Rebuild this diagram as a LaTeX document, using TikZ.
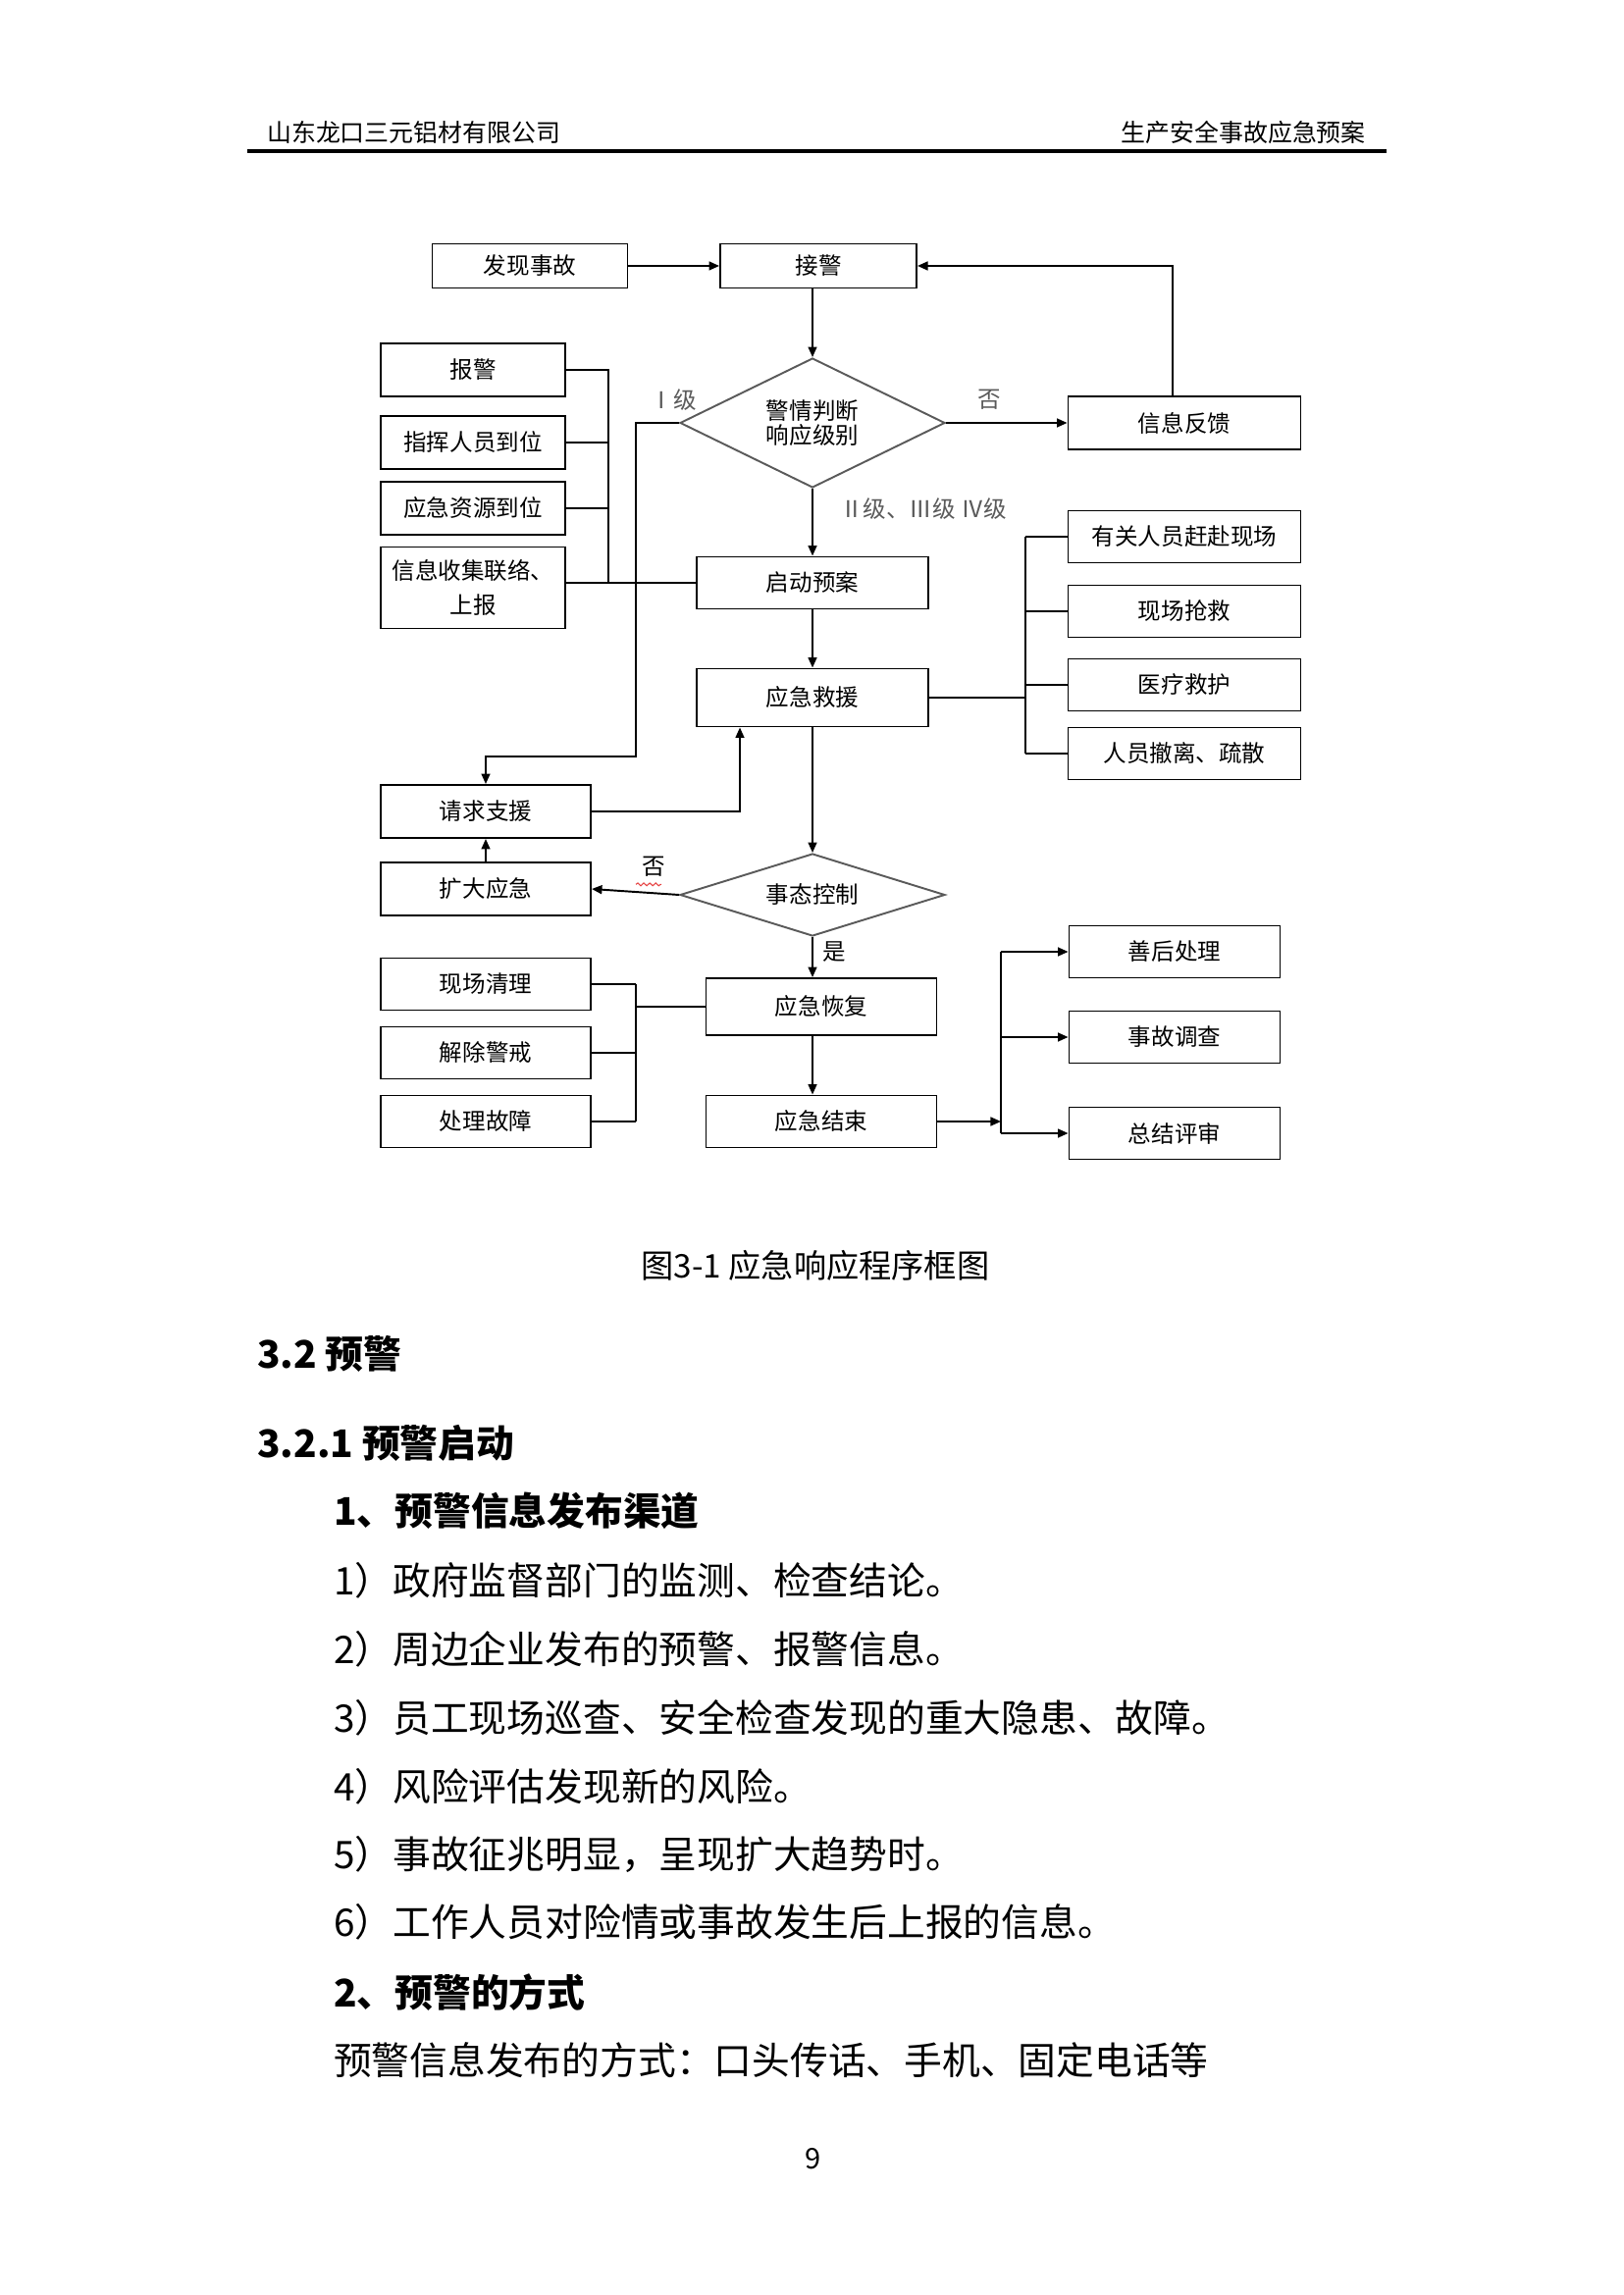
\documentclass[tikz,border=0pt]{standalone}
\usepackage{fontspec}
\setmainfont{Noto Sans CJK SC}
\usetikzlibrary{arrows.meta}
\usetikzlibrary{shapes.geometric}
\usetikzlibrary{decorations.pathmorphing}
\newlength\upx
\setlength\upx{0.12696mm}
\definecolor{gray1}{RGB}{90, 90, 90}
\definecolor{red1}{RGB}{230, 70, 70}

\begin{document}
\begin{tikzpicture}[x=\upx, y=-\upx, line width=0.7pt, >={Triangle[length=3.8pt,width=3.2pt]},
  box/.style 2 args={draw, minimum width=#1*\upx, minimum height=#2*\upx, inner sep=1pt,
    align=center, font=\fontsize{8.5pt}{12.5pt}\selectfont},
  cond/.style 2 args={diamond, draw=gray1, minimum width=#1*\upx, minimum height=#2*\upx,
    inner sep=0pt, align=center, font=\fontsize{8.5pt}{9pt}\selectfont},
  lbl/.style={text=gray1, font=\fontsize{8.5pt}{10pt}\selectfont},
  body/.style={anchor=west, font=\fontsize{14pt}{16pt}\selectfont}]
 \useasboundingbox (0,0) rectangle (1654,2339);
 % page header
  \node[anchor=west, font=\fontsize{9pt}{11pt}\selectfont] (hl) at (262,135) {山东龙口三元铝材有限公司};
  \node[anchor=east, font=\fontsize{9pt}{11pt}\selectfont] (hr) at (1402,135) {生产安全事故应急预案};
  \draw[line width=1.2pt] (252,154) -- (1413,154);

 % main column
  \node[box={199}{45}] (find) at (540,271) {发现事故};
  \node[box={200}{45}] (recv) at (834,271) {接警};
  \node[cond={270}{132}, aspect=2] (judge) at (828,431) {警情判断\\响应级别};
  \node[box={237}{54}] (feed) at (1207,431) {信息反馈};
  \node[box={236}{53}] (start) at (828,594) {启动预案};
  \node[box={236}{59}] (rescue) at (828,711) {应急救援};
  \node[cond={270}{84}, aspect=3.2] (ctrl) at (828,912) {事态控制};
  \node[box={235}{58}] (recover) at (837,1026) {应急恢复};
  \node[box={235}{53}] (finish) at (837,1143) {应急结束};

 % side boxes
  \node[box={188}{54}] (alarm) at (482,377) {报警};
  \node[box={188}{54}] (cmd) at (482,451) {指挥人员到位};
  \node[box={188}{54}] (res) at (482,518) {应急资源到位};
  \node[box={188}{83}] (info) at (482,599) {信息收集联络、\\上报};
  \node[box={214}{54}] (help) at (495,827) {请求支援};
  \node[box={214}{54}] (expand) at (495,906) {扩大应急};
  \foreach \name/\y/\txt in {s1/547/有关人员赶赴现场, s2/623/现场抢救, s3/698/医疗救护, s4/768/人员撤离、疏散}
   \node[box={237}{53}] (\name) at (1207,\y) {\txt};
  \foreach \name/\y/\txt in {c1/1003/现场清理, c2/1073/解除警戒, c3/1143/处理故障}
   \node[box={214}{53}] (\name) at (495,\y) {\txt};
  \foreach \name/\y/\txt in {e1/970/善后处理, e2/1057/事故调查, e3/1155/总结评审}
   \node[box={215}{53}] (\name) at (1197,\y) {\txt};

  \coordinate (lb) at (620,594);
  \coordinate (lv1) at (648,771);
  \coordinate (up) at (754,831);
  \coordinate (rb) at (1045,711);
  \coordinate (lc) at (648,1026);
  \coordinate (fb) at (1020,1143);
  \coordinate (back) at (1195,271);

 % connectors
  \draw[->] (find) -- (recv);
  \draw[->] (judge.north |- recv.south) -- (judge.north);
  \draw[->] (judge.east) -- (feed.west);
  \draw[->] (back |- feed.north) -- (back) -- (recv.east);
  \draw[->] (judge.south) -- (start.north);
  \draw[->] (judge.west) -- (judge.west -| lv1) -- (lv1) -- (lv1 -| help.north) -- (help.north);
  \draw (alarm.east) -- (alarm.east -| lb) -- (lb);
  \foreach \n in {cmd, res}
   \draw (\n.east) -- (\n.east -| lb);
  \draw (info.east |- start.west) -- (start.west);
  \draw[->] (start.south) -- (rescue.north);
  \draw (rescue.east) -- (rb);
  \draw (rb |- s1.west) -- (rb |- s4.west);
  \foreach \n in {s1, s2, s3, s4}
   \draw (rb |- \n.west) -- (\n.west);
  \draw[->] (rescue.south) -- (ctrl.north);
  \draw[->] (help.east) -- (help.east -| up) -- (up |- rescue.south);
  \draw[->] (expand.north) -- (help.south);
  \draw[->] (ctrl.west) -- (expand.east);
  \draw[->] (ctrl.south) -- (ctrl.south |- recover.north);
  \draw[->] (ctrl.south |- recover.south) -- (ctrl.south |- finish.north);
  \draw (lc) -- (recover.west);
  \draw (c1.east -| lc) -- (c3.east -| lc);
  \foreach \n in {c1, c2, c3}
   \draw (\n.east) -- (\n.east -| lc);
  \draw[->] (finish.east) -- (fb);
  \draw (fb |- e1.west) -- (fb |- e3.west);
  \foreach \n in {e1, e2, e3}
   \draw[->] (fb |- \n.west) -- (\n.west);

 % branch labels
  \node[lbl] (l1) at (686,408) {Ⅰ级};
  \node[lbl, anchor=west] (l2) at (846,519) {Ⅱ级、Ⅲ级 Ⅳ级};
  \node[lbl] (no1) at (1008,407) {否};
  \node[lbl, text=black] (no2) at (666,883) {否};
  \draw[red1, line width=0.4pt, decorate, decoration={snake, amplitude=0.5pt, segment length=2.2pt}]
  (no2.south west) ++(4,-2) -- ++(26,0);
  \node[lbl, text=black] (yes) at (850,970) {是};

 % caption and text
  \node[font=\fontsize{12pt}{14pt}\selectfont] (cap) at (831,1290) {图3-1 应急响应程序框图};
  \node[body, font=\fontsize{14pt}{16pt}\selectfont\bfseries] (h1) at (252,1380) {3.2 预警};
  \node[body, font=\fontsize{14pt}{16pt}\selectfont\bfseries] (h2) at (252,1471) {3.2.1 预警启动};
  \node[body, font=\fontsize{14pt}{16pt}\selectfont\bfseries] (h3) at (330,1540) {1、预警信息发布渠道};
  \node[body] (t1) at (330,1611) {1）政府监督部门的监测、检查结论。};
  \node[body] (t2) at (330,1681) {2）周边企业发布的预警、报警信息。};
  \node[body] (t3) at (330,1751) {3）员工现场巡查、安全检查发现的重大隐患、故障。};
  \node[body] (t4) at (330,1821) {4）风险评估发现新的风险。};
  \node[body] (t5) at (330,1890) {5）事故征兆明显，呈现扩大趋势时。};
  \node[body] (t6) at (330,1959) {6）工作人员对险情或事故发生后上报的信息。};
  \node[body, font=\fontsize{14pt}{16pt}\selectfont\bfseries] (h4) at (330,2031) {2、预警的方式};
  \node[body] (t7) at (330,2100) {预警信息发布的方式：口头传话、手机、固定电话等};
  \node[font=\fontsize{10.5pt}{12pt}\selectfont] (pg) at (829,2200) {9};
    \end{tikzpicture}
\end{document}
